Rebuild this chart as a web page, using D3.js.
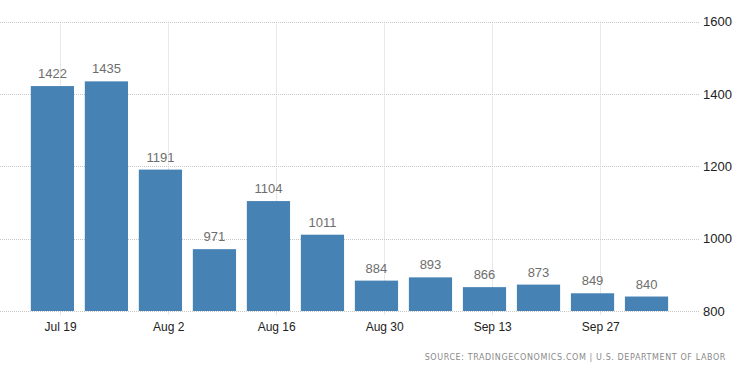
<!DOCTYPE html>
<html>
<head>
<meta charset="utf-8">
<script src="https://cdn.jsdelivr.net/npm/d3@7"></script>
<style>
  body { margin: 0; background: #fff; }
  svg { display: block; font-family: Tahoma, "DejaVu Sans", sans-serif; }
</style>
</head>
<body>
<div id="chart"></div>
<script>
// weekly initial jobless claims (thousands), week ending
const weeks = ["2020-07-18", "2020-07-25", "2020-08-01", "2020-08-08", "2020-08-15", "2020-08-22",
               "2020-08-29", "2020-09-05", "2020-09-12", "2020-09-19", "2020-09-26", "2020-10-03"];
const claims = [1422, 1435, 1191, 971, 1104, 1011, 884, 893, 866, 873, 849, 840];
const tickDates = ["2020-07-19", "2020-08-02", "2020-08-16", "2020-08-30", "2020-09-13", "2020-09-27"];
const yTicks = [800, 1000, 1200, 1400, 1600];

const W = 750, H = 373;
const parse = d3.timeParse("%Y-%m-%d");
const data = weeks.map((w, i) => ({date: parse(w), value: claims[i]}));

const svg = d3.select("#chart").append("svg")
  .attr("width", W)
  .attr("height", H);

const x = d3.scaleTime()
  .domain([new Date(2020, 6, 11, 5), new Date(2020, 9, 9, 13)])
  .range([0, 697]);
const y = d3.scaleLinear().domain([800, 1600]).range([311, 21.7]);

const step = x(parse(weeks[1])) - x(parse(weeks[0]));
const barW = step * 0.8;

// grid
svg.append("g").selectAll("line").data(yTicks).join("line")
  .attr("x1", 0).attr("x2", 699)
  .attr("y1", d => Math.round(y(d)) + 0.5).attr("y2", d => Math.round(y(d)) + 0.5)
  .attr("stroke", "#c8c8c8").attr("stroke-dasharray", "1,1");

svg.append("g").selectAll("line").data(tickDates).join("line")
  .attr("x1", d => Math.round(x(parse(d))) + 0.5).attr("x2", d => Math.round(x(parse(d))) + 0.5)
  .attr("y1", y(1600)).attr("y2", 315)
  .attr("stroke", "#d2d2d2").attr("stroke-dasharray", "1,1");

// bars
svg.append("g").selectAll("rect").data(data).join("rect")
  .attr("x", d => x(d.date) - barW / 2)
  .attr("y", d => y(d.value))
  .attr("width", barW)
  .attr("height", d => y(800) - y(d.value))
  .attr("fill", "#4682b4");

// value labels
svg.append("g").selectAll("text").data(data).join("text")
  .attr("x", d => x(d.date))
  .attr("y", d => y(d.value) - 8)
  .attr("text-anchor", "middle")
  .attr("font-family", "'Liberation Sans', Arial, sans-serif")
  .attr("font-size", 13)
  .attr("fill", "#6e6e6e")
  .text(d => d.value);

// right axis
const yAxis = svg.append("g")
  .attr("transform", "translate(699,0)")
  .call(d3.axisRight(y).tickValues(yTicks).tickFormat(d3.format("d")).tickSize(0).tickPadding(4));
yAxis.select(".domain").remove();
yAxis.selectAll("text").attr("font-size", 13).attr("fill", "#222")
  .attr("font-family", "'Liberation Sans', Arial, sans-serif");

// bottom axis
const xAxis = svg.append("g")
  .attr("transform", "translate(0,311)")
  .call(d3.axisBottom(x).tickValues(tickDates.map(parse))
    .tickFormat(d3.timeFormat("%b %-d")).tickSize(0).tickPadding(11));
xAxis.select(".domain").remove();
xAxis.selectAll("text").attr("font-size", 12).attr("fill", "#222").attr("font-family", null);

// source
svg.append("text")
  .attr("x", 726).attr("y", 360)
  .attr("text-anchor", "end")
  .attr("font-size", 8)
  .attr("letter-spacing", 0.6)
  .attr("fill", "#8a8a8a")
  .text("SOURCE: TRADINGECONOMICS.COM | U.S. DEPARTMENT OF LABOR");
</script>
</body>
</html>
